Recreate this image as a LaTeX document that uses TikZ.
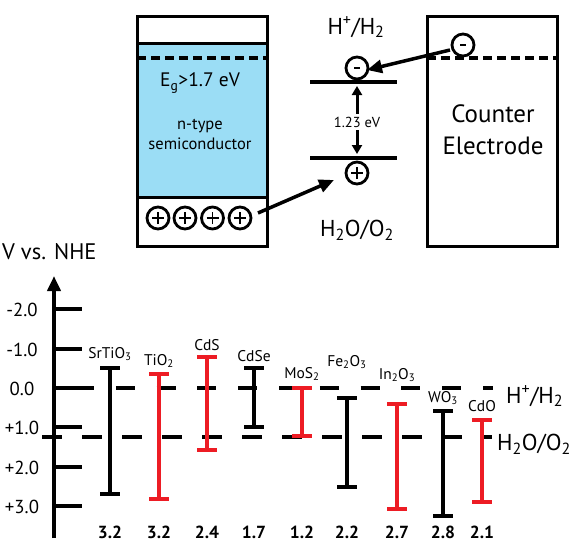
\documentclass[tikz,border=0pt]{standalone}
\usepackage{fontspec}
\setmainfont{PT Sans}
\usetikzlibrary{arrows.meta}
\definecolor{lblue}{RGB}{155,221,245}
\definecolor{ered}{RGB}{237,28,36}
\newcommand\fsz[1]{\fontsize{#1}{#1}\selectfont}
\newcommand\lsub[1]{\textsubscript{#1}}
\newcommand\usup[1]{\textsuperscript{#1}}
\begin{document}
\begin{tikzpicture}[x=1pt,y=-1pt,
  boxline/.style={line width=3pt},
  levelline/.style={line width=3.5pt},
  dashline/.style={line width=3.5pt, dash pattern=on 9pt off 5pt},
  chg/.style={circle, draw, line width=2.8pt, minimum size=22pt, inner sep=0pt},
  plussign/.style={path picture={\draw[line width=1.1pt] ([xshift=-6pt]path picture bounding box.center) -- ([xshift=6pt]path picture bounding box.center); \draw[line width=1.1pt] ([yshift=-6pt]path picture bounding box.center) -- ([yshift=6pt]path picture bounding box.center);}},
  minussign/.style={path picture={\draw[line width=1.6pt] ([xshift=-3pt]path picture bounding box.center) -- ([xshift=3pt]path picture bounding box.center);}},
  bigarrow/.style={line width=3.5pt, -{Triangle[length=15pt,width=13pt]}},
  smallarrow/.style={line width=3pt, -{Triangle[length=9pt,width=10pt]}},
  txt/.style={inner sep=0pt, font=\fsz{#1}},
  axline/.style={line width=4pt},
  levdash/.style={line width=4pt},
  ebarline/.style={line width=3.8pt},
]
\useasboundingbox (0,0) rectangle (573,543);

% ---------- semiconductor box ----------
\fill[lblue] (137,44) rectangle (267,197);
\draw[boxline] (137,17) rectangle (267,246);
\draw[boxline] (137,44) -- (267,44);
\draw[boxline] (137,197) -- (267,197);
\draw[dashline] (137,58) -- (267,58);
\node[txt=19.5] (eg) at (200,83) {E\lsub{g}>1.7 eV};
\node[txt=16.5, align=center, font=\fontsize{16.5}{20}\selectfont] (ntype) at (200,134) {n-type\\semiconductor};
\node[chg, plussign] (p1) at (158,218) {};
\node[chg, plussign] (p2) at (185,218) {};
\node[chg, plussign] (p3) at (212.5,218) {};
\node[chg, plussign] (p4) at (240,218) {};

% ---------- water levels ----------
\node[txt=23] (hh) at (356,27) {H\usup{+}/H\lsub{2}};
\node[chg, minussign] (em) at (357,68) {};
\coordinate (ul) at (310,82); \coordinate (ur) at (397,82);
\draw[levelline] (ul) -- (ur);
\coordinate (dl) at (310,158); \coordinate (dr) at (397,158);
\draw[levelline] (dl) -- (dr);
\node[txt=14.5] (gap) at (357,122) {1.23 eV};
\coordinate (upend) at (357,86);
\coordinate (dnend) at (357,154);
\draw[smallarrow] (gap.north) ++(0,-3) -- (upend);
\draw[smallarrow] (gap.south) ++(0,3) -- (dnend);
\node[chg, plussign] (hp) at (357,173) {};
\node[txt=23] (ho) at (357,230) {H\lsub{2}O/O\lsub{2}};

% ---------- counter electrode ----------
\draw[boxline] (427,17) rectangle (557,246);
\draw[dashline] (427,58) -- (557,58);
\node[chg, minussign] (cm) at (463,45) {};
\node[txt=25, align=center, font=\fontsize{25}{32}\selectfont] (ce) at (493,130) {Counter\\Electrode};

% arrows
\coordinate (a1s) at (258,213);
\coordinate (a1e) at (334,180);
\draw[bigarrow] (a1s) -- (a1e);
\coordinate (a2s) at (450,50);
\coordinate (a2e) at (367,70);
\draw[bigarrow] (a2s) -- (a2e);

% ---------- potential scale ----------
\node[txt=22.5, anchor=west] (vnhe) at (2,252) {V vs. NHE};
\coordinate (axb) at (54,538);
\coordinate (axt) at (54,276);
\draw[axline, -{Triangle[length=15pt,width=13pt]}] (axb) -- (axt);
\foreach \v/\lab in {-2/-2.0,-1/-1.0,0/0.0,1/+1.0,2/+2.0,3/+3.0}{
  \draw[axline] (54,{388+39.3*\v}) -- (82,{388+39.3*\v});
  \node[txt=18.8] at (22,{389+39.3*\v}) {\lab};
}
% dashed reference lines
\draw[levdash, dash pattern=on 19pt off 21.8pt] (75,388) -- (493,388);
\draw[levdash, dash pattern=on 20pt off 20pt] (42,437) -- (492,437);
\node[txt=23, anchor=west] (rhh) at (506,396) {H\usup{+}/H\lsub{2}};
\node[txt=23, anchor=west] (rho) at (497,444) {H\lsub{2}O/O\lsub{2}};

% band bars
\foreach \x/\t/\b/\c/\lab/\ly/\gap in {
  110/368/494/black/SrTiO\lsub{3}/354/3.2,
  159/374/499/ered/TiO\lsub{2}/361/3.2,
  207/357/450/ered/CdS/345/2.4,
  254/368/427/black/CdSe/356/1.7,
  302/388/436/ered/MoS\lsub{2}/374/1.2,
  347/398/487/black/Fe\lsub{2}O\lsub{3}/362/2.2,
  397/404/509/ered/In\lsub{2}O\lsub{3}/375/2.7,
  443/411/516/black/WO\lsub{3}/398/2.8,
  482/420/502/ered/CdO/406/2.1}{
  \draw[ebarline, \c] (\x,\t) -- (\x,\b);
  \draw[ebarline, \c] (\x-10,\t) -- (\x+10,\t);
  \draw[ebarline, \c] (\x-10,\b) -- (\x+10,\b);
  \node[txt=15.5] at (\x,\ly) {\lab};
  \node[txt=17.5, font=\fsz{17.5}\bfseries] at (\x,532) {\gap};
}
\end{tikzpicture}
\end{document}
